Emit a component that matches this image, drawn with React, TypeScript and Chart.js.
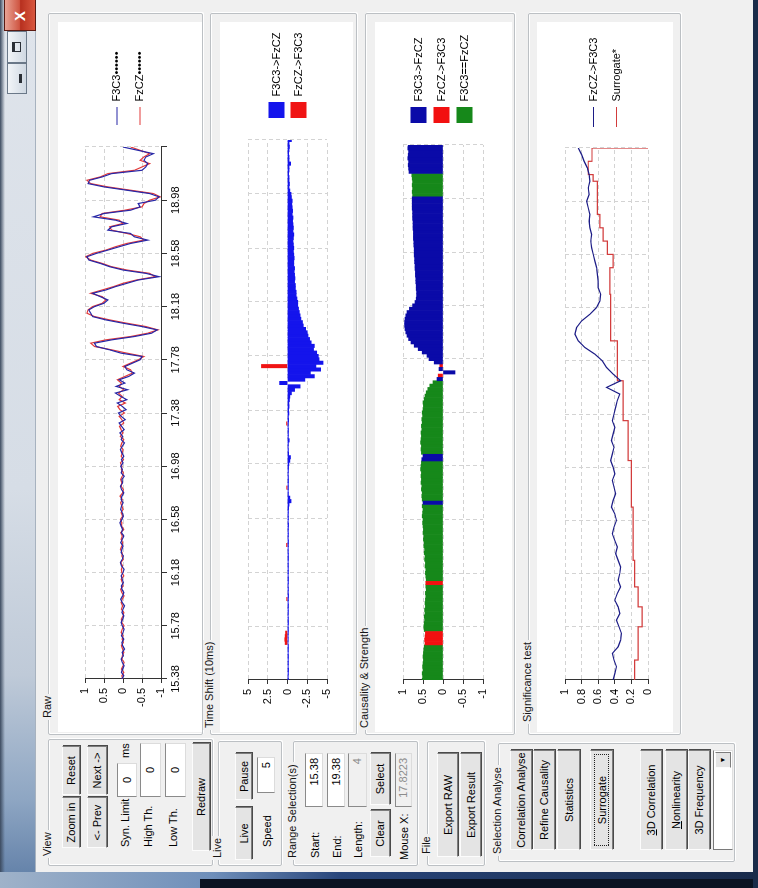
import React, { useEffect, useRef } from "react";
import { Chart, registerables } from "chart.js";

Chart.register(...registerables);
Chart.defaults.font.family = "'Liberation Sans', Arial, sans-serif";
Chart.defaults.font.size = 11;
Chart.defaults.color = "#000";

// ---- recorded segment ------------------------------------------------------
const SAMPLE_START = 15.38;
const SAMPLE_END = 19.38;
const SAMPLE_STEP = 0.025;
const SIG_STEP = 0.05;

const X_TICKS = [15.38, 15.78, 16.18, 16.58, 16.98, 17.38, 17.78, 18.18, 18.58, 18.98, 19.38];
const X_TICK_LABELS = ["15.38", "15.78", "16.18", "16.58", "16.98", "17.38", "17.78", "18.18", "18.58", "18.98", ""];

// raw EEG, normalised amplitude
const RAW_F3C3 = [
  0.03, -0.02, 0.04, 0.01, -0.03, 0.02, 0.05, -0.01, 0.02, -0.04,
  0.01, 0.03, -0.02, 0.04, 0.0, -0.03, 0.02, 0.05, 0.01, -0.02,
  0.03, 0.0, -0.04, 0.02, 0.06, 0.01, -0.02, 0.03, 0.04, -0.01,
  0.02, 0.05, 0.0, -0.03, 0.04, 0.07, 0.02, -0.01, 0.05, 0.03,
  0.0, 0.06, 0.02, -0.02, 0.04, 0.01, 0.05, 0.08, 0.03, -0.01,
  0.02, 0.06, 0.04, 0.0, 0.05, 0.03, -0.02, 0.04, 0.07, 0.01,
  0.03, -0.03, 0.05, 0.02, 0.06, 0.0, 0.04, -0.02, 0.03, 0.07,
  0.02, -0.04, 0.05, 0.01, 0.08, -0.03, 0.04, 0.1, -0.06, 0.05,
  0.12, -0.08, 0.02, 0.15, -0.1, 0.06, 0.2, -0.12, 0.18, -0.05,
  0.1, -0.15, -0.3, -0.1, -0.05, -0.25, -0.45, -0.5, 0.05, 0.35,
  0.7, 0.75, 0.3, -0.3, -0.75, -0.9, -0.5, 0.0, 0.45, 0.8,
  0.85, 0.9, 0.75, 0.5, 0.4, 0.6, 0.8, 0.45, 0.2, -0.1,
  -0.4, -0.95, -0.6, 0.0, 0.35, 0.6, 0.9, 0.95, 0.7, 0.4,
  0.1, -0.2, -0.65, -0.3, -0.2, 0.4, 0.3, -0.1, 0.2, 0.78,
  0.5, -0.2, -0.45, -0.4, -0.85, -0.95, -0.7, -0.1, 0.5, 0.92,
  0.88, 0.55, 0.3, -0.5, -0.6, -0.65, -0.55, -0.6, -0.8, -0.4,
  0.0,
];
const RAW_FZCZ = [
  0.01, 0.03, -0.02, 0.04, 0.0, -0.03, 0.03, 0.02, -0.02, 0.01,
  0.04, -0.01, 0.02, 0.0, 0.05, 0.02, -0.03, 0.03, 0.04, 0.0,
  -0.02, 0.04, 0.01, 0.05, 0.02, -0.03, 0.03, 0.06, 0.0, 0.02,
  0.05, -0.02, 0.03, 0.04, 0.01, 0.06, -0.01, 0.03, 0.02, 0.07,
  0.03, 0.01, 0.05, 0.02, 0.06, -0.02, 0.04, 0.03, 0.07, 0.01,
  0.05, 0.0, 0.03, 0.06, 0.02, 0.08, 0.01, -0.01, 0.05, 0.03,
  0.06, 0.02, -0.01, 0.04, 0.03, 0.07, -0.01, 0.05, 0.02, 0.0,
  0.06, 0.03, -0.02, 0.07, 0.0, 0.05, 0.09, -0.02, 0.03, 0.1,
  -0.04, 0.08, 0.14, -0.06, 0.1, 0.02, 0.12, -0.02, 0.1, 0.04,
  0.15, -0.05, -0.25, -0.2, 0.0, -0.2, -0.4, -0.55, -0.1, 0.3,
  0.75, 0.85, 0.45, -0.2, -0.65, -0.92, -0.6, -0.1, 0.35, 0.75,
  0.95, 0.92, 0.8, 0.55, 0.45, 0.55, 0.85, 0.55, 0.25, 0.0,
  -0.35, -0.85, -0.7, -0.1, 0.3, 0.55, 0.85, 0.98, 0.8, 0.45,
  0.2, -0.1, -0.55, -0.45, -0.1, 0.3, 0.35, 0.0, 0.1, 0.6,
  0.55, -0.05, -0.5, -0.55, -0.7, -0.98, -0.8, -0.2, 0.4, 0.85,
  0.95, 0.6, 0.4, -0.3, -0.5, -0.7, -0.45, -0.55, -0.7, -0.45,
  -0.2,
];

// time shift in units of 10 ms
const SHIFT_F3C3_FZCZ = [
  -0.12, -0.1, -0.12, -0.14, -0.1, -0.12, -0.11, -0.13, -0.1, -0.12,
  -0.12, -0.08, -0.1, -0.09, -0.11, -0.12, -0.1, -0.13, -0.12, -0.1,
  -0.12, -0.11, -0.13, -0.1, -0.12, -0.14, -0.11, -0.12, -0.1, -0.12,
  -0.13, -0.1, -0.12, -0.11, -0.12, -0.1, -0.13, -0.12, -0.11, -0.1,
  -0.12, -0.13, -0.1, -0.12, -0.11, -0.12, -0.14, -0.1, -0.12, -0.11,
  -0.12, -0.15, -0.2, -0.45, -0.3, -0.12, -0.1, -0.12, -0.11, -0.13,
  -0.12, -0.1, -0.12, -0.14, -0.18, -0.3, -0.38, -0.15, -0.12, -0.1,
  -0.12, -0.22, -0.11, -0.12, -0.13, -0.1, -0.12, -0.15, -0.12, -0.18,
  -0.15, -0.2, -0.18, -0.25, -0.3, -0.5, -0.9, -1.6, 1.0, -2.2,
  -3.4, -2.9, -4.2, -3.6, -4.5, -4.0, -3.9, -3.7, -3.3, -3.4,
  -3.0, -2.8, -2.6, -2.5, -2.3, -2.0, -1.9, -1.7, -1.6, -1.5,
  -1.4, -1.3, -1.3, -1.2, -1.1, -1.1, -1.0, -1.0, -0.9, -0.95,
  -0.9, -0.85, -0.9, -0.8, -0.8, -0.85, -0.8, -0.75, -0.8, -0.75,
  -0.7, -0.75, -0.8, -0.7, -0.75, -0.7, -0.65, -0.7, -0.6, -0.65,
  -0.6, -0.55, -0.6, -0.5, -0.45, -0.3, -0.2, -0.25, -0.2, -0.2,
  -0.15, -0.2, -0.2, -0.4, -0.2, -0.2, -0.15, -0.2, -0.25, -0.2,
  -0.5,
];
// the reverse direction only shows up at a few samples
const SHIFT_FZCZ_F3C3_AT = [11, 12, 13, 14, 24, 40, 57, 76, 93];
const SHIFT_FZCZ_F3C3_VAL = [0.3, 0.35, 0.3, 0.25, 0.1, 0.12, 0.1, 0.12, 3.3];

// causality: B = F3C3->FzCZ, R = FzCZ->F3C3, G = F3C3==FzCZ
const CAUSAL_DIR = (
  "GGGGGGGGGG" +
  "GRRRRGGGGG" +
  "GGGGGGGGGR" +
  "GGGGGGGGGG" +
  "GGGGGGGGGG" +
  "GGGBGGGGGG" +
  "GGGGGGBBGG" +
  "GGGGGGGGGG" +
  "GGGGGGGGGG" +
  "BRBBRBBBBB" +
  "BBBBBBBBBB" +
  "BBBBBBBBBB" +
  "BBBBBBBBBB" +
  "BBBBBBBBBB" +
  "BBBBBGGGGG" +
  "GGBBBBBBBB" +
  "B"
).split("");
const CAUSAL_STRENGTH = [
  0.52, 0.51, 0.52, 0.5, 0.51, 0.5, 0.49, 0.5, 0.49, 0.48,
  0.47, 0.45, 0.46, 0.45, 0.44, 0.47, 0.48, 0.47, 0.46, 0.47,
  0.45, 0.46, 0.44, 0.45, 0.44, 0.43, 0.44, 0.42, 0.43, 0.43,
  0.42, 0.43, 0.44, 0.43, 0.45, 0.44, 0.46, 0.45, 0.47, 0.46,
  0.48, 0.47, 0.49, 0.48, 0.5, 0.49, 0.5, 0.51, 0.5, 0.52,
  0.51, 0.5, 0.52, 0.5, 0.52, 0.53, 0.52, 0.54, 0.53, 0.55,
  0.54, 0.55, 0.54, 0.56, 0.55, 0.54, 0.53, 0.5, 0.54, 0.55,
  0.54, 0.56, 0.55, 0.54, 0.55, 0.53, 0.54, 0.52, 0.53, 0.51,
  0.52, 0.5, 0.49, 0.5, 0.47, 0.45, 0.42, 0.38, 0.33, 0.25,
  0.15, 0.12, -0.3, 0.1, 0.08, 0.22, 0.35, 0.4, 0.52, 0.62,
  0.72, 0.8, 0.86, 0.9, 0.93, 0.95, 0.96, 0.96, 0.95, 0.93,
  0.9, 0.84, 0.76, 0.7, 0.67, 0.66, 0.66, 0.67, 0.67, 0.68,
  0.68, 0.69, 0.69, 0.7, 0.7, 0.71, 0.71, 0.72, 0.72, 0.72,
  0.73, 0.73, 0.74, 0.74, 0.74, 0.75, 0.75, 0.75, 0.76, 0.76,
  0.76, 0.77, 0.77, 0.77, 0.77, 0.76, 0.77, 0.76, 0.77, 0.76,
  0.77, 0.78, 0.85, 0.86, 0.87, 0.86, 0.88, 0.87, 0.86, 0.88,
  0.87,
];

// significance test, sampled every 50 ms
const SIG_FZCZ_F3C3 = [
  0.42, 0.4, 0.38, 0.41, 0.43, 0.36, 0.33, 0.32, 0.35, 0.38,
  0.34, 0.36, 0.4, 0.37, 0.33, 0.36, 0.34, 0.33, 0.36, 0.39,
  0.37, 0.4, 0.43, 0.41, 0.38, 0.4, 0.44, 0.42, 0.39, 0.41,
  0.43, 0.4, 0.42, 0.45, 0.43, 0.41, 0.44, 0.42, 0.4, 0.43,
  0.41, 0.39, 0.37, 0.34, 0.5, 0.33, 0.42, 0.5, 0.55, 0.64,
  0.76, 0.84, 0.88, 0.86, 0.8, 0.7, 0.62, 0.58, 0.57, 0.6,
  0.6, 0.61, 0.62, 0.64, 0.66, 0.68, 0.69, 0.68, 0.7, 0.71,
  0.7, 0.72, 0.74, 0.71, 0.72, 0.7, 0.71, 0.73, 0.77, 0.8,
  0.84,
];
const SIG_SURROGATE = [
  0.16, 0.16, 0.16, 0.12, 0.12, 0.12, 0.12, 0.12, 0.07, 0.07,
  0.07, 0.12, 0.12, 0.12, 0.16, 0.16, 0.16, 0.16, 0.18, 0.18,
  0.18, 0.18, 0.18, 0.18, 0.18, 0.18, 0.2, 0.2, 0.2, 0.2,
  0.2, 0.2, 0.2, 0.24, 0.24, 0.24, 0.24, 0.24, 0.24, 0.3,
  0.3, 0.3, 0.3, 0.3, 0.3, 0.37, 0.37, 0.37, 0.37, 0.37,
  0.37, 0.45, 0.45, 0.45, 0.45, 0.45, 0.45, 0.45, 0.46, 0.46,
  0.46, 0.46, 0.42, 0.42, 0.49, 0.49, 0.54, 0.54, 0.58, 0.58,
  0.61, 0.61, 0.61, 0.61, 0.61, 0.66, 0.72, 0.72, 0.675, 0.675,
  0,
];

const RAW_LEGEND = ["F3C3••••••", "FzCZ••••••"];
const SHIFT_LEGEND = ["F3C3->FzCZ", "FzCZ->F3C3"];
const CAUSAL_LEGEND = ["F3C3->FzCZ", "FzCZ->F3C3", "F3C3==FzCZ"];
const SIG_LEGEND = ["FzCZ->F3C3", "Surrogate*"];

// ---- chart helpers ---------------------------------------------------------
const tAt = (i: number, step = SAMPLE_STEP) => +(SAMPLE_START + i * step).toFixed(3);
const series = (vals: (number | null)[], step = SAMPLE_STEP) =>
  vals.map((v, i) => ({ x: tAt(i, step), y: v }));

type Area = {
  w: number; h: number; left: number; right: number; top: number; bottom: number;
  legendLeft: number; legendMid: number;
};

const RAW_AREA: Area = { w: 710, h: 144, left: 53, right: 585, top: 27, bottom: 103, legendLeft: 607, legendMid: 70.5 };
const SHIFT_AREA: Area = { w: 710, h: 133, left: 52, right: 592, top: 28, bottom: 107, legendLeft: 614, legendMid: 67.5 };
const CAUSAL_AREA: Area = { w: 710, h: 137, left: 52, right: 587, top: 28, bottom: 108, legendLeft: 609, legendMid: 66.5 };
const SIG_AREA: Area = { w: 710, h: 136, left: 52, right: 584, top: 28, bottom: 111, legendLeft: 605, legendMid: 68 };

// moves the right-hand legend to a fixed spot next to the plot
const legendPlacer = {
  id: "legendPlacer",
  afterLayout(chart: any, _args: any, opts: any) {
    const lg = chart.legend;
    if (!lg || opts == null || opts.left == null) return;
    const pad = lg.options.labels.padding;
    const w = lg.width;
    const h = lg.height;
    lg.left = opts.left - pad;
    lg.right = lg.left + w;
    lg.top = opts.midY - h / 2;
    lg.bottom = lg.top + h;
  },
};

const GRID = { color: "#d3d3d3", lineWidth: 1, tickColor: "#333", tickLength: 4 };

// plain numbers on the value axes: 1, 0.5, 0, -0.5 ...
const plainNumber = (v: any) => `${+Number(v).toFixed(3)}`;

function xScale(area: Area, labelled: boolean) {
  return {
    type: "linear",
    min: SAMPLE_START,
    max: SAMPLE_END,
    offset: false,
    afterBuildTicks: (axis: any) => {
      axis.ticks = X_TICKS.map((v) => ({ value: v }));
    },
    afterFit: (axis: any) => {
      axis.height = area.h - area.bottom;
    },
    ticks: {
      display: labelled,
      autoSkip: false,
      maxRotation: 0,
      minRotation: 0,
      padding: 2,
      color: "#000",
      callback: (_v: any, i: number) => X_TICK_LABELS[i],
    },
    grid: { ...GRID, offset: false, drawTicks: labelled, tickLength: 6 },
    border: { display: labelled, color: "#333", width: 1, dash: [4, 3] },
  };
}

function yScale(area: Area, min: number, max: number, step: number) {
  return {
    min,
    max,
    afterFit: (axis: any) => {
      axis.width = area.left;
    },
    ticks: { stepSize: step, padding: 5, color: "#000", callback: plainNumber },
    grid: { ...GRID },
    border: { display: true, color: "#333", width: 1, dash: [4, 3] },
  };
}

function chartOptions(area: Area, labelledX: boolean, y: [number, number, number], legendLabels: any) {
  return {
    responsive: false,
    maintainAspectRatio: false,
    animation: false,
    devicePixelRatio: 1,
    events: [],
    layout: { padding: { top: area.top, left: 0, right: 0, bottom: 0 } },
    scales: {
      x: xScale(area, labelledX),
      y: yScale(area, y[0], y[1], y[2]),
    },
    plugins: {
      legend: {
        position: "right",
        align: "center",
        labels: { color: "#000", font: { size: 11 }, ...legendLabels },
      },
      tooltip: { enabled: false },
      legendPlacer: { left: area.legendLeft, midY: area.legendMid },
    },
  };
}

function lineSet(label: string, data: any[], color: string, extra: any = {}) {
  return {
    label,
    data,
    borderColor: color,
    backgroundColor: color,
    borderWidth: 1.2,
    pointRadius: 0,
    tension: 0,
    fill: false,
    ...extra,
  };
}

function barSet(label: string, data: any[], color: string) {
  return {
    label,
    data,
    backgroundColor: color,
    borderColor: color,
    borderWidth: 0,
    grouped: false,
    barPercentage: 1,
    categoryPercentage: 1,
  };
}

function rawConfig(): any {
  return {
    type: "line",
    data: {
      datasets: [
        lineSet(RAW_LEGEND[0], series(RAW_F3C3), "#2626a6"),
        lineSet(RAW_LEGEND[1], series(RAW_FZCZ), "#e23a3a"),
      ],
    },
    options: chartOptions(RAW_AREA, true, [-1, 1, 0.5], { boxWidth: 18, boxHeight: 0, padding: 12 }),
    plugins: [legendPlacer],
  };
}

function shiftConfig(): any {
  const reverse: (number | null)[] = SHIFT_F3C3_FZCZ.map(() => null);
  SHIFT_FZCZ_F3C3_AT.forEach((idx, k) => {
    reverse[idx] = SHIFT_FZCZ_F3C3_VAL[k];
  });
  return {
    type: "bar",
    data: {
      datasets: [
        barSet(SHIFT_LEGEND[0], series(SHIFT_F3C3_FZCZ), "#1414ec"),
        barSet(SHIFT_LEGEND[1], series(reverse), "#f01414"),
      ],
    },
    options: chartOptions(SHIFT_AREA, false, [-5, 5, 2.5], { boxWidth: 16, boxHeight: 16, padding: 6 }),
    plugins: [legendPlacer],
  };
}

function causalConfig(): any {
  const pick = (code: string) => CAUSAL_STRENGTH.map((v, i) => (CAUSAL_DIR[i] === code ? v : null));
  return {
    type: "bar",
    data: {
      datasets: [
        barSet(CAUSAL_LEGEND[0], series(pick("B")), "#0a0aa8"),
        barSet(CAUSAL_LEGEND[1], series(pick("R")), "#f21010"),
        barSet(CAUSAL_LEGEND[2], series(pick("G")), "#16881a"),
      ],
    },
    options: chartOptions(CAUSAL_AREA, false, [-1, 1, 0.5], { boxWidth: 16, boxHeight: 16, padding: 7 }),
    plugins: [legendPlacer],
  };
}

function sigConfig(): any {
  return {
    type: "line",
    data: {
      datasets: [
        lineSet(SIG_LEGEND[0], series(SIG_FZCZ_F3C3, SIG_STEP), "#1c1c86"),
        lineSet(SIG_LEGEND[1], series(SIG_SURROGATE, SIG_STEP), "#d23c3c", { stepped: true }),
      ],
    },
    options: chartOptions(SIG_AREA, false, [0, 1, 0.2], { boxWidth: 20, boxHeight: 0, padding: 12 }),
    plugins: [legendPlacer],
  };
}

function makeChart(canvas: HTMLCanvasElement, config: any, area: Area) {
  const chart = new Chart(canvas, config);
  const shift = chart.chartArea.right - area.right;
  if (Math.abs(shift) > 0.2) {
    config.options.layout.padding.right = shift;
    chart.update();
  }
  return chart;
}

// ---- window chrome ---------------------------------------------------------
const UI_FONT = "'Liberation Sans', Arial, sans-serif";

function Group({ x, y, w, h, label, labelX }: any) {
  return (
    <>
      <div
        style={{
          position: "absolute", left: x, top: y, width: w, height: h, boxSizing: "border-box",
          border: "1px solid #bcc0c4", borderRadius: 2, boxShadow: "inset 1px 1px 0 #fff, 1px 1px 0 #fff",
        }}
      />
      <div
        style={{
          position: "absolute", left: labelX, top: y - 7, padding: "0 2px", background: "#f0f0f0",
          lineHeight: "13px", whiteSpace: "nowrap", color: "#151515",
        }}
      >
        {label}
      </div>
    </>
  );
}

function Btn({ x, y, w, h, children, focus }: any) {
  return (
    <div
      style={{
        position: "absolute", left: x, top: y, width: w, height: h, boxSizing: "border-box",
        border: "1px solid", borderColor: "#fcfcfc #7d7d7d #7d7d7d #fcfcfc",
        boxShadow: "1px 1px 0 #4a4a4a", background: "#e4e4e4",
        display: "flex", alignItems: "center", justifyContent: "center", whiteSpace: "nowrap",
      }}
    >
      {focus && <div style={{ position: "absolute", left: 3, top: 3, right: 3, bottom: 3, border: "1px dotted #222" }} />}
      {children}
    </div>
  );
}

function Field({ x, y, w, h, value, align = "right", disabled = false }: any) {
  return (
    <div
      style={{
        position: "absolute", left: x, top: y, width: w, height: h, boxSizing: "border-box",
        border: "1px solid", borderColor: "#8a8a8a #dcdcdc #dcdcdc #8a8a8a",
        background: disabled ? "#f0f0f0" : "#fff", color: disabled ? "#8c8c8c" : "#000",
        textAlign: align, padding: "0 4px", lineHeight: `${h - 2}px`, whiteSpace: "nowrap",
      }}
    >
      {value}
    </div>
  );
}

function Txt({ x, y, children }: any) {
  return (
    <div style={{ position: "absolute", left: x, top: y - 7, lineHeight: "14px", whiteSpace: "nowrap" }}>{children}</div>
  );
}

function Panel({ y, area, canvasRef }: any) {
  return (
    <div style={{ position: "absolute", left: 156, top: y, width: area.w, height: area.h, background: "#fff" }}>
      <canvas ref={canvasRef} width={area.w} height={area.h} style={{ display: "block", width: area.w, height: area.h }} />
    </div>
  );
}

export default function App() {
  const rawRef = useRef<HTMLCanvasElement>(null);
  const shiftRef = useRef<HTMLCanvasElement>(null);
  const causalRef = useRef<HTMLCanvasElement>(null);
  const sigRef = useRef<HTMLCanvasElement>(null);

  useEffect(() => {
    const charts = [
      makeChart(rawRef.current!, rawConfig(), RAW_AREA),
      makeChart(shiftRef.current!, shiftConfig(), SHIFT_AREA),
      makeChart(causalRef.current!, causalConfig(), CAUSAL_AREA),
      makeChart(sigRef.current!, sigConfig(), SIG_AREA),
    ];
    return () => charts.forEach((c) => c.destroy());
  }, []);

  return (
    <div style={{ position: "fixed", left: 0, top: 0, width: 758, height: 888, overflow: "hidden", background: "#0c1320" }}>
      <div
        style={{
          position: "absolute", left: 0, top: 0, width: 888, height: 758, overflow: "hidden",
          transformOrigin: "0 0", transform: "translate(0px, 888px) rotate(-90deg)",
          fontFamily: UI_FONT, fontSize: 11, color: "#000", background: "#f0f0f0",
        }}
      >
        {/* caption bar */}
        <div
          style={{
            position: "absolute", left: 0, top: 0, width: 888, height: 36,
            background: "linear-gradient(to right, #5d7ca5 0%, #8ea6c3 10%, #bfcad8 24%, #d6dde6 45%, #dfe4eb 100%)",
            borderBottom: "1px solid #a7b2bf", boxSizing: "border-box",
          }}
        />
        <div style={{ position: "absolute", left: 0, top: 0, width: 888, height: 5, background: "linear-gradient(#3c4b60, rgba(60,75,96,0))" }} />
        {/* caption buttons */}
        <div
          style={{
            position: "absolute", left: 794, top: 7, width: 31, height: 20, boxSizing: "border-box",
            border: "1px solid #6a7888", background: "linear-gradient(#f2f5f8, #cfd8e2)",
          }}
        >
          <div style={{ position: "absolute", left: 10, top: 11, width: 9, height: 3, background: "#2a2f36" }} />
        </div>
        <div
          style={{
            position: "absolute", left: 825, top: 7, width: 32, height: 20, boxSizing: "border-box",
            border: "1px solid #6a7888", background: "linear-gradient(#f2f5f8, #cfd8e2)",
          }}
        >
          <div style={{ position: "absolute", left: 10, top: 4, width: 10, height: 9, boxSizing: "border-box", border: "1px solid #2a2f36", borderTopWidth: 3 }} />
        </div>
        <div
          style={{
            position: "absolute", left: 857, top: 4, width: 40, height: 32, boxSizing: "border-box",
            border: "1px solid #5a1a12", background: "linear-gradient(#e9a394, #cf5643 48%, #b7301f 52%, #d9573f)",
            color: "#fff", fontWeight: 700, fontSize: 15, lineHeight: "30px", paddingLeft: 9,
          }}
        >
          X
        </div>
        {/* frame */}
        <div style={{ position: "absolute", left: 0, top: 0, width: 16, height: 758, background: "linear-gradient(#9fb2c9 0%, #6f8fba 28%, #28457a 45%, #182a4a 100%)" }} />
        <div style={{ position: "absolute", left: 0, top: 200, width: 9, height: 558, background: "#0b1322" }} />
        <div style={{ position: "absolute", left: 0, top: 753, width: 888, height: 5, background: "#1a2c4a" }} />

        {/* view */}
        <Group x={22} y={48} w={127} h={165} label="View" labelX={30} />
        <Btn x={40} y={62} w={51} h={18}>Zoom in</Btn>
        <Btn x={93} y={62} w={49} h={18}>Reset</Btn>
        <Btn x={40} y={87} w={51} h={20}>{"<- Prev"}</Btn>
        <Btn x={93} y={87} w={49} h={20}>{"Next ->"}</Btn>
        <Txt x={41} y={125}>Syn. Limit</Txt>
        <Field x={91} y={117} w={34} h={20} value="0" align="center" />
        <Txt x={130} y={125}>ms</Txt>
        <Txt x={41} y={148}>High Th.</Txt>
        <Field x={91} y={140} w={54} h={21} value="0" align="center" />
        <Txt x={41} y={173}>Low Th.</Txt>
        <Field x={91} y={165} w={54} h={21} value="0" align="center" />
        <Btn x={37} y={192} w={108} h={18}>Redraw</Btn>

        {/* live */}
        <Group x={22} y={218} w={125} h={64} label="Live" labelX={28} />
        <Btn x={28} y={235} w={53} h={17}>Live</Btn>
        <Btn x={88} y={235} w={47} h={17}>Pause</Btn>
        <Txt x={41} y={267}>Speed</Txt>
        <Field x={95} y={257} w={36} h={18} value="5" />

        {/* range selection */}
        <Group x={22} y={293} w={125} h={125} label="Range Selection(s)" labelX={28} />
        <Txt x={30} y={315}>Start:</Txt>
        <Field x={81} y={305} w={54} h={18} value="15.38" />
        <Txt x={30} y={337}>End:</Txt>
        <Field x={81} y={327} w={54} h={18} value="19.38" />
        <Txt x={30} y={358}>Length:</Txt>
        <Field x={81} y={348} w={54} h={19} value="4" disabled />
        <Btn x={31} y={370} w={47} h={20}>Clear</Btn>
        <Btn x={83} y={370} w={52} h={20}>Select</Btn>
        <Txt x={28} y={404}>Mouse X:</Txt>
        <Field x={81} y={395} w={54} h={17} value="17.8223" disabled />

        {/* file */}
        <Group x={22} y={427} w={125} h={58} label="File" labelX={32} />
        <Btn x={31} y={437} w={104} h={21}>Export RAW</Btn>
        <Btn x={31} y={460} w={104} h={21}>Export Result</Btn>

        {/* selection analyse */}
        <Group x={26} y={498} w={119} h={237} label="Selection Analyse" labelX={32} />
        <Btn x={38} y={510} w={100} h={22}>Correlation Analyse</Btn>
        <Btn x={38} y={533} w={100} h={22}>Refine Causality</Btn>
        <Btn x={38} y={557} w={100} h={23}>Statistics</Btn>
        <Btn x={38} y={590} w={100} h={23} focus>Surrogate</Btn>
        <Btn x={38} y={640} w={100} h={22}><span><u>3</u>D Correlation</span></Btn>
        <Btn x={38} y={665} w={100} h={22}><span><u>N</u>onlinearity</span></Btn>
        <Btn x={38} y={688} w={100} h={22}>3D Frequency</Btn>
        <div
          style={{
            position: "absolute", left: 38, top: 713, width: 100, height: 20, boxSizing: "border-box",
            border: "1px solid", borderColor: "#7a7a7a #e0e0e0 #e0e0e0 #7a7a7a", background: "#fff",
          }}
        >
          <div
            style={{
              position: "absolute", right: 1, top: 1, width: 16, height: 16, boxSizing: "border-box",
              border: "1px solid", borderColor: "#fcfcfc #7d7d7d #7d7d7d #fcfcfc", background: "#e4e4e4",
              fontSize: 7, lineHeight: "14px", textAlign: "center",
            }}
          >
            ▼
          </div>
        </div>

        {/* plots */}
        <Group x={153} y={48} w={722} h={155} label="Raw" labelX={168} />
        <Panel y={58} area={RAW_AREA} canvasRef={rawRef} />
        <Group x={153} y={210} w={722} h={147} label="Time Shift (10ms)" labelX={158} />
        <Panel y={220} area={SHIFT_AREA} canvasRef={shiftRef} />
        <Group x={153} y={365} w={722} h={150} label="Causality & Strength" labelX={158} />
        <Panel y={375} area={CAUSAL_AREA} canvasRef={causalRef} />
        <Group x={153} y={528} w={722} h={153} label="Significance test" labelX={164} />
        <Panel y={537} area={SIG_AREA} canvasRef={sigRef} />
      </div>
    </div>
  );
}
